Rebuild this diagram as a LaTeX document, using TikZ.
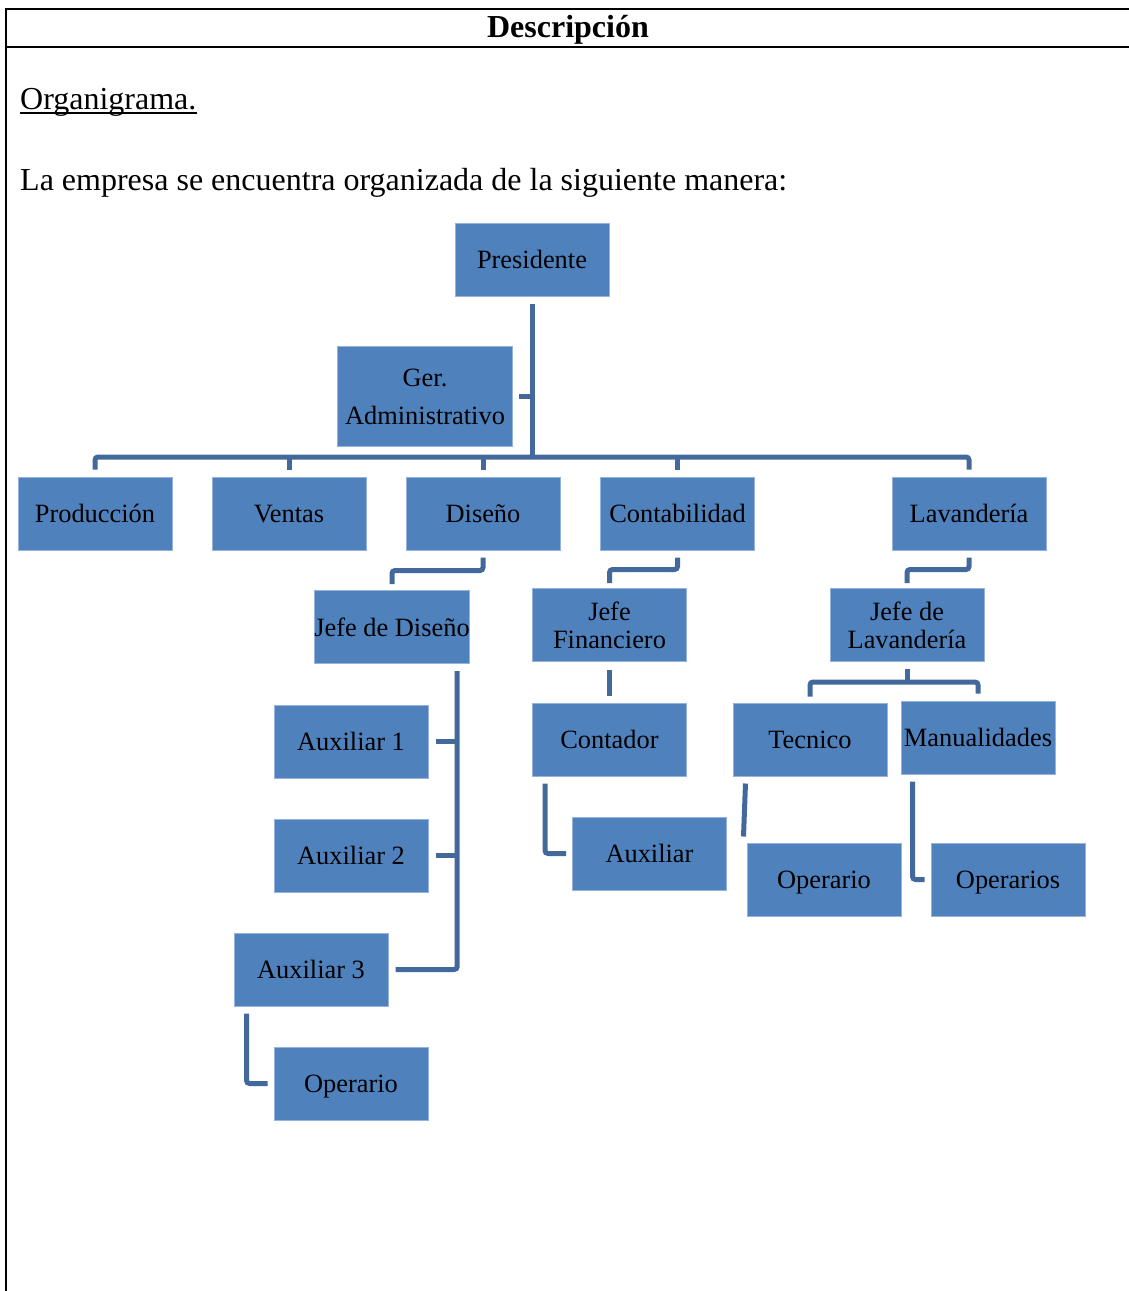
\documentclass[tikz,border=0pt]{standalone}
\usepackage{fontspec}
\setmainfont{Liberation Serif}
\usetikzlibrary{calc}
\definecolor{boxblue}{HTML}{4F81BD}
\definecolor{boxedge}{HTML}{95B3DC}
\definecolor{connblue}{HTML}{43699C}
\tikzset{
  orgbox/.style={rectangle, fill=boxblue, draw=boxedge, line width=1pt,
    minimum width=154pt, minimum height=73pt, inner sep=0pt, align=center,
    text=black, font=\fontsize{26.4}{28}\selectfont},
  oneline/.style={text height=18pt, text depth=0pt},
  conn/.style={draw=connblue, line width=5pt},
  frame/.style={draw=black, line width=2pt},
  bodytext/.style={anchor=base west, inner sep=0pt, font=\fontsize{32}{36}\selectfont}
}
\begin{document}
\begin{tikzpicture}[x=1pt,y=-1pt]
\useasboundingbox (0,0) rectangle (1129,1291);
% frame
\coordinate (ftl) at (6,9);
\coordinate (ftr) at (1129,9);
\coordinate (fbl) at (6,1291);
\coordinate (hl) at (6,46.5);
\coordinate (hr) at (1129,46.5);
\draw[frame] (ftr) -- (ftl) -- (fbl);
\draw[frame] (hl) -- (hr);
\node[inner sep=0pt, anchor=base, font=\fontsize{32}{36}\selectfont\bfseries] (desc) at (568,37) {Descripción};
\node[bodytext] (org) at (20,109) {Organigrama.};
\draw[line width=1.5pt] ($(org.base west)+(0,4)$) -- ($(org.base east)+(0,4)$);
\node[bodytext] (intro) at (20,190) {La empresa se encuentra organizada de la siguiente manera:};

% boxes
\node[orgbox, oneline] (pres) at (532,259.5) {Presidente};
\node[orgbox, minimum width=175pt, minimum height=100pt, font=\fontsize{26.4}{38}\selectfont] (ger) at (425,396.5) {Ger.\\Administrativo};
\node[orgbox, oneline] (prod) at (95,513.5) {Producción};
\node[orgbox, oneline] (vent) at (289,513.5) {Ventas};
\node[orgbox, oneline] (dis) at (483,513.5) {Diseño};
\node[orgbox, oneline] (cont) at (677.5,513.5) {Contabilidad};
\node[orgbox, oneline] (lav) at (969,513.5) {Lavandería};
\node[orgbox, oneline] (jd) at (392,627) {Jefe de Diseño};
\node[orgbox] (jf) at (609.5,625) {Jefe\\Financiero};
\node[orgbox] (jl) at (907,625) {Jefe de\\Lavandería};
\node[orgbox, oneline] (a1) at (351,741.5) {Auxiliar 1};
\node[orgbox, oneline] (a2) at (351,855.5) {Auxiliar 2};
\node[orgbox, oneline] (a3) at (311,969.5) {Auxiliar 3};
\node[orgbox, oneline] (op1) at (351,1083.5) {Operario};
\node[orgbox, oneline] (ctd) at (609.5,739.5) {Contador};
\node[orgbox, oneline] (aux) at (649.5,853.5) {Auxiliar};
\node[orgbox, oneline] (tec) at (810,739.5) {Tecnico};
\node[orgbox, oneline] (man) at (978,737.5) {Manualidades};
\node[orgbox, oneline] (op2) at (824,879.5) {Operario};
\node[orgbox, oneline] (ops) at (1008,879.5) {Operarios};

% top level connectors
\coordinate (bus) at (532,457);
\draw[conn] ($(pres.south)+(0,7)$) -- (pres.south |- bus);
\draw[conn] ($(ger.east)+(6,0)$) -- (ger.east -| pres.south);
\draw[conn, rounded corners=3pt] ($(prod.north)+(0,-7)$) |- (bus) -| ($(lav.north)+(0,-7)$);
\draw[conn] ($(vent.north)+(0,-7)$) -- (vent.north |- bus);
\draw[conn] ($(dis.north)+(0,-7)$) -- (dis.north |- bus);
\draw[conn] ($(cont.north)+(0,-7)$) -- (cont.north |- bus);

% second level
\draw[conn, rounded corners=3pt] ($(dis.south)+(0,7)$) -- ++(0,13) -| ($(jd.north)+(0,-6)$);
\draw[conn, rounded corners=3pt] ($(cont.south)+(0,7)$) -- ++(0,12) -| ($(jf.north)+(0,-5)$);
\draw[conn, rounded corners=3pt] ($(lav.south)+(0,7)$) -- ++(0,12) -| ($(jl.north)+(0,-5)$);

% Jefe de Diseño branch
\coordinate (jdv) at ($(jd.south east)+(-13,7)$);
\draw[conn, rounded corners=3pt] (jdv) |- ($(a3.east)+(7,0)$);
\draw[conn] ($(a1.east)+(7,0)$) -- (a1.east -| jdv);
\draw[conn] ($(a2.east)+(7,0)$) -- (a2.east -| jdv);
\draw[conn, rounded corners=3pt] ($(a3.south west)+(13,7)$) |- ($(op1.west)+(-6,0)$);

% Jefe Financiero branch
\draw[conn] ($(jf.south)+(0,8)$) -- ($(ctd.north)+(0,-7)$);
\draw[conn, rounded corners=3pt] ($(ctd.south west)+(13,7)$) |- ($(aux.west)+(-6,0)$);

% Jefe de Lavandería branch
\coordinate (lb) at (907,682);
\draw[conn] ($(jl.south)+(0,7)$) -- (jl.south |- lb);
\draw[conn, rounded corners=3pt] ($(tec.north)+(0,-6)$) |- (lb) -| ($(man.north)+(0,-7)$);
\coordinate (tecend) at ($(tec.south west)+(11,60)$);
\draw[conn] ($(tec.south west)+(13,7)$) -- (tecend);
\draw[conn, rounded corners=3pt] ($(man.south west)+(12,7)$) |- ($(ops.west)+(-6,0)$);
\end{tikzpicture}
\end{document}
